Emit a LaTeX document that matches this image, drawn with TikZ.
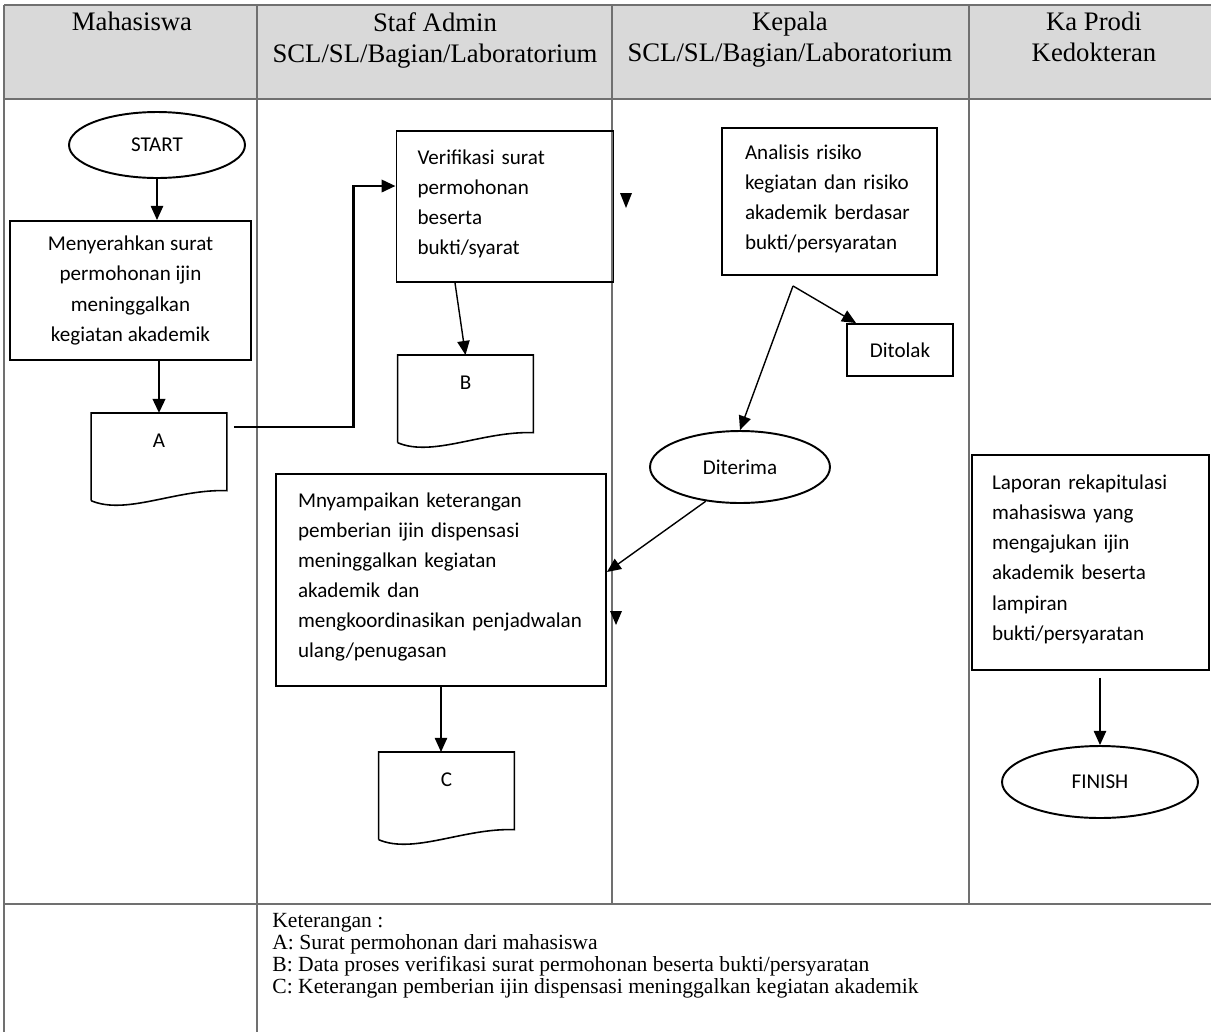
\documentclass[tikz,border=0pt]{standalone}
\usepackage{fontspec}
\setmainfont{Liberation Serif}
\newfontfamily\bodyfont{Carlito}
\usetikzlibrary{arrows.meta,shapes.geometric}
\definecolor{headgray}{HTML}{D9D9D9}
\definecolor{rulegray}{HTML}{707070}
% outline of a document symbol round a docbox node
\newcommand{\docoutline}[1]{\draw[line width=0.9pt] (#1.south west) -- (#1.north west) -- (#1.north east) -- ([yshift=0.2cm]#1.south east) .. controls +(-1cm,0.04cm) and +(0.7cm,-0.3cm) .. (#1.south west);}

\begin{document}
\begin{tikzpicture}[x=0.02cm, y=-0.02cm, >={Triangle[length=8pt,width=7pt]},
        lane/.style={rulegray, line width=0.7pt},
        headtext/.style={anchor=north, align=center, inner sep=0pt, font=\fontsize{15.2}{17.6}\selectfont},
        proc/.style={draw, line width=1.1pt, font=\bodyfont\fontsize{12}{17.1}\selectfont},
        lbox/.style={align=left},
        term/.style={draw, ellipse, inner sep=0pt, line width=1.1pt, font=\bodyfont\fontsize{12}{14}\selectfont},
        docbox/.style={anchor=north, minimum width=2.7cm, inner xsep=0pt, inner ysep=0.28cm, text height=0.4cm, text depth=0.78cm, font=\bodyfont\fontsize{12}{14}\selectfont},
        flow/.style={->, line width=0.8pt},
        flowthick/.style={->, line width=1.6pt}]
        \useasboundingbox (0,0) rectangle (1211,1032);

        % table
        \fill[headgray] (4,5) rectangle (1211,99);
        \draw[lane] (4,5) -- (1211,5);
        \draw[lane] (4,5) -- (4,1032);
        \draw[lane] (4,99) -- (1211,99);
        \draw[lane] (257,5) -- (257,1032);
        \draw[lane] (612,5) -- (612,904);
        \draw[lane] (969,5) -- (969,904);
        \draw[lane, line width=1.2pt] (4,904) -- (1211,904);

        \node[headtext] (hMhs) at (132,12) {Mahasiswa};
        \node[headtext] (hStaf) at (435,12) {Staf Admin\\SCL/SL/Bagian/Laboratorium};
        \node[headtext] (hKep) at (790,12) {Kepala\\SCL/SL/Bagian/Laboratorium};
        \node[headtext] (hKa) at (1094,12) {Ka Prodi\\Kedokteran};

        % Mahasiswa
        \node[term, minimum width=3.52cm, minimum height=1.32cm] (start) at (157,145) {START};
        \node[proc, align=center, minimum width=4.82cm, minimum height=2.78cm] (serah) at (130.5,290.5) {Menyerahkan surat\\permohonan ijin\\meninggalkan\\kegiatan akademik};
        \node[docbox] (docA) at (159,413) {A};
        \docoutline{docA}

        % Staf Admin
        \node[proc, lbox, text width=3.5cm, inner xsep=0.42cm, text depth=1.99cm, minimum height=3.02cm] (verif) at (505,206.5) {Verifikasi surat\\permohonan\\beserta\\bukti/syarat};
        \node[docbox] (docB) at (465.5,355) {B};
        \docoutline{docB}
        \node[proc, lbox, text width=5.72cm, inner xsep=0.44cm, text depth=3.2cm, minimum height=4.24cm] (mny) at (441,580) {Mnyampaikan keterangan\\pemberian ijin dispensasi\\meninggalkan kegiatan\\akademik dan\\mengkoordinasikan~penjadwalan\\ulang/penugasan};
        \node[docbox] (docC) at (446.5,752) {C};
        \docoutline{docC}

        % Kepala
        \node[proc, lbox, text width=3.38cm, inner xsep=0.46cm, text depth=1.99cm, minimum height=2.94cm] (analisis) at (829.5,201.5) {Analisis risiko\\kegiatan~dan~risiko\\akademik berdasar\\bukti/persyaratan};
        \node[proc, minimum width=2.12cm, minimum height=1.04cm] (ditolak) at (900,350) {Ditolak};
        \node[term, minimum width=3.6cm, minimum height=1.44cm] (diterima) at (740,467) {Diterima};

        % Ka Prodi
        \node[proc, lbox, text width=3.94cm, inner xsep=0.4cm, text depth=3.2cm, minimum height=4.3cm] (laporan) at (1090.5,562.5) {Laporan rekapitulasi\\mahasiswa yang\\mengajukan ijin\\akademik beserta\\lampiran\\bukti/persyaratan};
        \node[term, minimum width=3.92cm, minimum height=1.44cm] (finish) at (1100,782) {FINISH};

        % arrows
        \draw[flow] (start.south) -- (start.south |- serah.north);
        \draw[flowthick] (docA.north |- serah.south) -- (docA.north);
        \draw[flowthick] ([shift={(0.14cm,-0.28cm)}]docA.north east) -| ([shift={(-0.84cm,0.41cm)}]verif.west) -- ([yshift=0.41cm]verif.west);
        \draw[flow] ([xshift=-1cm]verif.south) -- (docB.north);
        \coordinate (fork) at ([shift={(-0.73cm,-0.2cm)}]analisis.south);
        \draw[flow] (fork) -- ([xshift=0.2cm]ditolak.north west);
        \draw[flow] (fork) -- (diterima.north);
        \draw[flow] (diterima.-135) -- ([yshift=0.16cm]mny.east);
        \draw[flow] (mny.south) -- (mny.south |- docC.north);
        \coordinate (lapout) at ([yshift=-0.14cm]laporan.south);
        \draw[flow] (lapout -| finish.north) -- (finish.north);
        %\fill stray heads
        \fill (620,193) -- (632,193) -- (626,208) -- cycle;
        \fill (610,611) -- (622,611) -- (616,625) -- cycle;

        % Keterangan
        \node[anchor=north west, align=left, inner sep=0pt, font=\fontsize{12.3}{12.5}\selectfont] (ket) at (272,913) {Keterangan :\\A: Surat permohonan dari mahasiswa\\B: Data proses verifikasi surat permohonan beserta bukti/persyaratan\\C: Keterangan pemberian ijin dispensasi meninggalkan kegiatan akademik};
\end{tikzpicture}
\end{document}
